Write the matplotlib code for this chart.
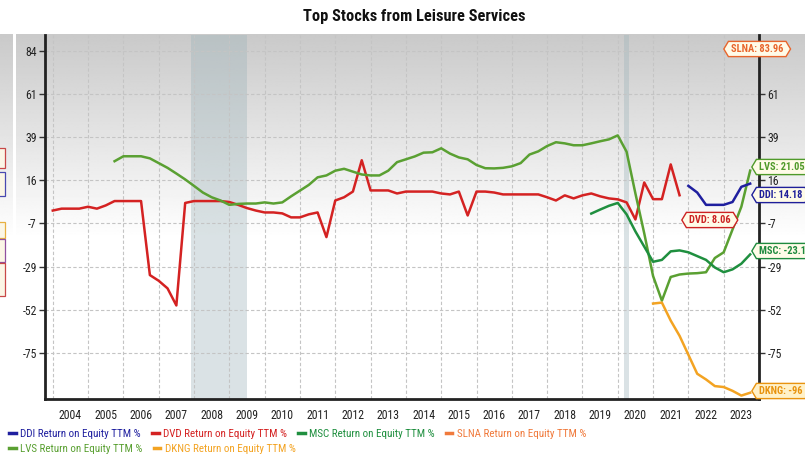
import numpy as np
import matplotlib
matplotlib.use("Agg")
import matplotlib.pyplot as plt
from matplotlib import font_manager
from matplotlib.path import Path
from matplotlib.lines import Line2D

# quarterly Return on Equity TTM %, first value at the given start year
ddi_start = 2022.0
ddi = [13, 9.5, 3, 3, 3, 4.5, 12.5, 14.18]

dvd_start = 2004.0
dvd = [0, 1, 1, 1,
       2, 1, 2.7, 5,
       5, 5, 5, -34,
       -37, -41, -50, 4,
       5, 5, 5, 5,
       4.5, 3, 1.3, 0,
       -1, -1, -1.5, -3.6,
       -3.6, -2, -1, -14,
       5.3, 7, 10, 26.5,
       10.6, 10.6, 10.6, 9,
       10, 10, 10, 10,
       9, 8.5, 10, -2.6,
       10, 10, 9.5, 8.5,
       8.5, 8.5, 8.5, 8.5,
       7, 5.3, 8, 6.4,
       8, 9, 7.5, 6.4,
       5.9, 4.3, -4.7, 14.8,
       6, 6, 24.3, 8.06]

msc_start = 2019.25
msc = [-1.6, 0.5, 2.5,
       4, -2, -11, -19,
       -27, -26, -21.5, -21,
       -22, -24, -26, -30,
       -32.5, -31, -28, -23.1]

lvs_start = 2005.75
lvs = [26,
       28.6, 28.6, 28.6, 27.5,
       25, 22.5, 19.5, 16.4,
       13, 9.5, 7, 5.3,
       3, 3.5, 3.7, 3.7,
       4.3, 3.7, 4.3, 7.5,
       10.5, 13.5, 17.5, 18.5,
       21, 22, 20.5, 19,
       18.5, 18.5, 21, 25.5,
       27, 28.5, 30.5, 30.7,
       32.8, 30, 28, 27,
       24, 22.3, 22.2, 22.5,
       23.3, 25, 29.5, 31.2,
       34, 36, 35.4, 34.4,
       34.4, 35.4, 36.5, 37.5,
       39.6, 31, 9, -12,
       -34.5, -47.5, -35, -33.7,
       -33.2, -33, -32.5, -25,
       -22, -10, 2, 21.05]

dkng_start = 2021.0
dkng = [-49, -48.5, -58, -66,
        -76, -86, -89, -92.5,
        -93, -95, -97.5, -96]

years = list(range(2004, 2024))
ytick_vals = [84, 61.3, 38.6, 15.9, -6.8, -29.5, -52.2, -74.9]
ytick_labels = ["84", "61", "39", "16", "-7", "-29", "-52", "-75"]
recessions = [(2007.92, 2009.5), (2020.17, 2020.33)]

end_labels = [("SLNA: 83.96", "#e8652c", 731, 49),
              ("LVS: 21.05", "#4f9a2a", 759, 167),
              ("DDI: 14.18", "#1f1f9a", 759, 195),
              ("DVD: 8.06", "#cc2222", 689, 220),
              ("MSC: -23.1", "#1e8a3e", 759, 251),
              ("DKNG: -96", "#e8930f", 759, 391)]

C_DDI = "#1f1f9f"
C_DVD = "#d42222"
C_MSC = "#1f8f3f"
C_SLNA = "#f07a3c"
C_LVS = "#5aa032"
C_DKNG = "#f3a322"

W, H = 805, 463


def find_narrow():
    names = {f.name for f in font_manager.fontManager.ttflist}
    for cand in ["Liberation Sans Narrow", "Roboto Condensed", "Open Sans Condensed",
                 "DejaVu Sans Condensed", "Noto Sans Condensed"]:
        if cand in names:
            return cand, None
    for f in font_manager.fontManager.ttflist:
        if f.name == "DejaVu Sans" and f.stretch == "condensed":
            return "DejaVu Sans", "condensed"
    return None, None


narrow_name, narrow_stretch = find_narrow()
if narrow_name:
    FONT = dict(family=[narrow_name, "DejaVu Sans"])
    if narrow_stretch:
        FONT["stretch"] = narrow_stretch
    SCALE = 1.0
else:
    FONT = dict(family=["Liberation Sans", "DejaVu Sans"])
    SCALE = 0.86


def quarters(start, vals):
    return start + 0.25 * np.arange(len(vals))


def tag_box(x0, y0, width, height, mutation_size):
    pad = 0.25 * mutation_size
    x0 -= pad
    y0 -= pad
    width += 2 * pad
    height += 2 * pad
    x1, y1 = x0 + width, y0 + height
    ym = y0 + height / 2
    d = height * 0.3
    return Path([(x0 - d, ym), (x0, y0), (x1, y0), (x1 + d, ym),
                 (x1, y1), (x0, y1), (x0 - d, ym)], closed=True)


fig = plt.figure(figsize=(W / 100, H / 100), dpi=100)
fig.patch.set_facecolor("white")

# gray gradient panels behind everything
bg = fig.add_axes([0, 0, 1, 1], zorder=-1)
rows = np.linspace(0, 1, 200)
shade = np.clip(0.79 + 0.21 * rows / 0.95, 0, 1)
grad = np.repeat(shade[:, None], 2, axis=1)
bg.imshow(grad, cmap="gray", vmin=0, vmax=1, aspect="auto",
          extent=(16, W, 250, 34), interpolation="bilinear")
bg.imshow(grad, cmap="gray", vmin=0, vmax=1, aspect="auto",
          extent=(0, 12, 250, 34), interpolation="bilinear")
# cut-off boxes of a neighbouring panel at the far left
for (y0, y1, col) in [(148, 168, "#c84848"), (172, 196, "#4848b0"),
                      (222, 238, "#e8b040"), (239, 262, "#9050a0"),
                      (263, 296, "#c84848")]:
    bg.add_patch(plt.Rectangle((-3, y0), 8, y1 - y0, facecolor="#fbf6e6",
                               edgecolor=col, lw=0.9))
bg.set_xlim(0, W)
bg.set_ylim(H, 0)
bg.axis("off")

ax = fig.add_axes([45 / W, 1 - 399 / H, (759 - 45) / W, (399 - 35) / H], zorder=1)
ax.set_facecolor("none")

for a, b in recessions:
    ax.axvspan(a, b, color="#9fb5bb", alpha=0.38, lw=0, zorder=0)

lw = 1.8
ax.plot(quarters(dvd_start, dvd), dvd, color=C_DVD, lw=lw, zorder=3)
ax.plot(quarters(lvs_start, lvs), lvs, color=C_LVS, lw=lw, zorder=3)
ax.plot(quarters(msc_start, msc), msc, color=C_MSC, lw=lw, zorder=3)
ax.plot(quarters(ddi_start, ddi), ddi, color=C_DDI, lw=lw, zorder=3)
ax.plot(quarters(dkng_start, dkng), dkng, color=C_DKNG, lw=lw, zorder=3)

ax.set_xlim(2003.78, 2024.0)
ax.set_ylim(-99.3, 92.5)

ax.set_xticks(years)
ax.set_xticklabels([])
ax.set_xticks([y + 0.5 for y in years], minor=True)
ax.set_xticklabels([str(y) for y in years], minor=True,
                   fontsize=8.5 * SCALE, color="#222222", **FONT)
ax.tick_params(axis="x", which="both", length=0, pad=7)

ax.set_yticks(ytick_vals)
ax.set_yticklabels(ytick_labels, fontsize=8.5 * SCALE, color="#222222", **FONT)
ax.tick_params(axis="y", which="major", length=4, width=1, color="#333333",
               direction="out", left=True, right=True, labelleft=True,
               labelright=True, pad=2)
# the top right label sits under the SLNA tag
ax.yaxis.get_major_ticks()[0].label2.set_visible(False)

ax.grid(True, which="major", color="#c4c4c4", lw=0.8, ls=(0, (3, 2)))
for side in ["left", "right", "bottom"]:
    ax.spines[side].set_color("#222222")
    ax.spines[side].set_linewidth(2)
ax.spines["top"].set_visible(False)

# end-of-series tags
for text, col, px, py in end_labels:
    fill = "#fff1c8" if text.startswith("DKNG") else "#fffbe8"
    fig.text(px / W, 1 - py / H, text, ha="left", va="center",
             fontsize=7.5 * SCALE, color=col, fontweight="bold", zorder=5,
             bbox=dict(boxstyle=tag_box, fc=fill, ec=col, lw=1), **FONT)

fig.text(414 / W, 1 - 17 / H, "Top Stocks from Leisure Services",
         ha="center", va="center", fontsize=11.8 * SCALE ** 1.5, fontweight="bold",
         color="#111111", **FONT)


def handle(c):
    return Line2D([], [], color=c, lw=2.5)


# legend in two rows
row1 = [("DDI Return on Equity TTM %", C_DDI), ("DVD Return on Equity TTM %", C_DVD),
        ("MSC Return on Equity TTM %", C_MSC), ("SLNA Return on Equity TTM %", C_SLNA)]
row2 = [("LVS Return on Equity TTM %", C_LVS), ("DKNG Return on Equity TTM %", C_DKNG)]
leg_size = 7.9 if narrow_name else 6.9
for items, ypix in [(row1, 434), (row2, 449)]:
    fig.legend([handle(c) for _, c in items], [t for t, _ in items],
               loc="center left", bbox_to_anchor=(4 / W, 1 - ypix / H),
               ncol=len(items), frameon=False, handlelength=0.6,
               handletextpad=0.4, columnspacing=1.0, borderpad=0,
               prop=dict(size=leg_size, **FONT),
               labelcolor=[c for _, c in items])

fig.savefig("out.png", dpi=100)
